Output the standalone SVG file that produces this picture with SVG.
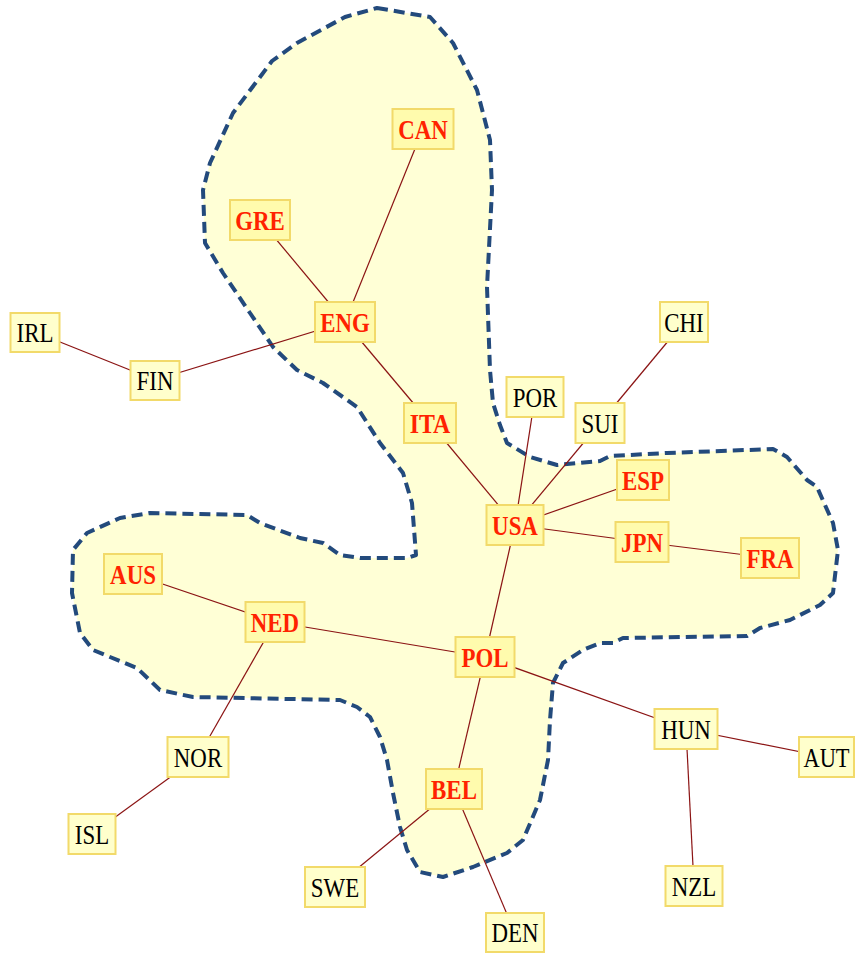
<svg xmlns="http://www.w3.org/2000/svg" width="858" height="953" viewBox="0 0 858 953">
<style>
.blob{fill:#ffffd6;stroke:#234a7c;stroke-width:4;stroke-dasharray:11 6;stroke-linejoin:round;stroke-linecap:butt}
.edge{stroke:#8b1414;stroke-width:1.2;fill:none}
.in rect{fill:#fffbad;stroke:#f2da6a;stroke-width:2}
.out rect{fill:#ffffcc;stroke:#f2da6a;stroke-width:2}
text{font-family:"Liberation Serif","Times New Roman",serif;font-size:27px;text-anchor:middle}
.in text{fill:#ff2200;font-weight:bold}
.out text{fill:#000}
</style>
<rect width="858" height="953" fill="#fff"/>
<path class="blob" d="M377,8 L430,17 L453,43 L477,90 L490,140 L492,190 L487,287 L490,370 L493,403 L500,425 L507,443 L530,457 L557,465 L600,461 L610,456 L667,453 L773,449 L787,457 L807,480 L817,487 L833,523 L838,550 L833,593 L820,605 L790,620 L760,628 L747,636 L623,638 L613,643 L600,643 L583,650 L563,663 L553,683 L550,720 L548,760 L540,800 L523,840 L507,853 L473,867 L443,877 L420,872 L407,850 L400,827 L393,793 L387,760 L380,737 L370,717 L357,707 L340,700 L290,699 L193,697 L160,690 L137,668 L110,657 L93,650 L80,633 L72,593 L73,550 L87,533 L120,518 L150,513 L247,515 L260,523 L300,538 L323,543 L340,555 L360,558 L407,558 L416,555 L412,503 L403,473 L380,443 L357,407 L323,383 L297,370 L273,347 L250,313 L223,273 L205,243 L203,190 L210,163 L233,113 L272,61 L297,43 L345,17 Z"/>
<g id="edges">
<line class="edge" x1="423" y1="129" x2="345" y2="322"/>
<line class="edge" x1="260" y1="220" x2="345" y2="322"/>
<line class="edge" x1="345" y1="322" x2="155" y2="380"/>
<line class="edge" x1="155" y1="380" x2="35" y2="332"/>
<line class="edge" x1="345" y1="322" x2="430" y2="423"/>
<line class="edge" x1="430" y1="423" x2="515" y2="525"/>
<line class="edge" x1="515" y1="525" x2="535" y2="397"/>
<line class="edge" x1="515" y1="525" x2="600" y2="423"/>
<line class="edge" x1="600" y1="423" x2="684" y2="322"/>
<line class="edge" x1="515" y1="525" x2="643" y2="480"/>
<line class="edge" x1="515" y1="525" x2="642" y2="542"/>
<line class="edge" x1="642" y1="542" x2="770" y2="558"/>
<line class="edge" x1="515" y1="525" x2="485" y2="657"/>
<line class="edge" x1="133" y1="574" x2="275" y2="622"/>
<line class="edge" x1="275" y1="622" x2="485" y2="657"/>
<line class="edge" x1="275" y1="622" x2="198" y2="757"/>
<line class="edge" x1="198" y1="757" x2="92" y2="834"/>
<line class="edge" x1="485" y1="657" x2="454" y2="789"/>
<line class="edge" x1="485" y1="657" x2="686" y2="729"/>
<line class="edge" x1="686" y1="729" x2="826" y2="757"/>
<line class="edge" x1="686" y1="729" x2="694" y2="886"/>
<line class="edge" x1="454" y1="789" x2="335" y2="887"/>
<line class="edge" x1="454" y1="789" x2="515" y2="933"/>
</g>
<g id="CAN" class="in"><rect x="392.5" y="109" width="61" height="40"/><text x="423" y="138.5" textLength="49.6" lengthAdjust="spacingAndGlyphs">CAN</text></g>
<g id="GRE" class="in"><rect x="230" y="200" width="60" height="40"/><text x="260" y="229.5" textLength="49.6" lengthAdjust="spacingAndGlyphs">GRE</text></g>
<g id="ENG" class="in"><rect x="315" y="302" width="60" height="40"/><text x="345" y="331.5" textLength="49.6" lengthAdjust="spacingAndGlyphs">ENG</text></g>
<g id="ITA" class="in"><rect x="404" y="403" width="52" height="40"/><text x="430" y="432.5" textLength="40.7" lengthAdjust="spacingAndGlyphs">ITA</text></g>
<g id="USA" class="in"><rect x="486.5" y="505" width="57" height="40"/><text x="515" y="534.5" textLength="45.8" lengthAdjust="spacingAndGlyphs">USA</text></g>
<g id="ESP" class="in"><rect x="617" y="460" width="52" height="40"/><text x="643" y="489.5" textLength="42" lengthAdjust="spacingAndGlyphs">ESP</text></g>
<g id="JPN" class="in"><rect x="615.5" y="522" width="53" height="40"/><text x="642" y="551.5" textLength="41.9" lengthAdjust="spacingAndGlyphs">JPN</text></g>
<g id="FRA" class="in"><rect x="741" y="538" width="58" height="40"/><text x="770" y="567.5" textLength="47" lengthAdjust="spacingAndGlyphs">FRA</text></g>
<g id="AUS" class="in"><rect x="104" y="554" width="58" height="40"/><text x="133" y="583.5" textLength="45.8" lengthAdjust="spacingAndGlyphs">AUS</text></g>
<g id="NED" class="in"><rect x="245.5" y="602" width="59" height="40"/><text x="275" y="631.5" textLength="48.3" lengthAdjust="spacingAndGlyphs">NED</text></g>
<g id="POL" class="in"><rect x="455.5" y="637" width="59" height="40"/><text x="485" y="666.5" textLength="47" lengthAdjust="spacingAndGlyphs">POL</text></g>
<g id="BEL" class="in"><rect x="426" y="769" width="56" height="40"/><text x="454" y="798.5" textLength="45.8" lengthAdjust="spacingAndGlyphs">BEL</text></g>
<g id="IRL" class="out"><rect x="10.5" y="313" width="49" height="39"/><text x="35" y="341.5" textLength="36.9" lengthAdjust="spacingAndGlyphs">IRL</text></g>
<g id="FIN" class="out"><rect x="130.5" y="361" width="49" height="39"/><text x="155" y="389.5" textLength="36.9" lengthAdjust="spacingAndGlyphs">FIN</text></g>
<g id="POR" class="out"><rect x="506.5" y="377" width="57" height="40"/><text x="535" y="406.5" textLength="44.5" lengthAdjust="spacingAndGlyphs">POR</text></g>
<g id="SUI" class="out"><rect x="575.5" y="403" width="49" height="40"/><text x="600" y="432.5" textLength="36.9" lengthAdjust="spacingAndGlyphs">SUI</text></g>
<g id="CHI" class="out"><rect x="660" y="302" width="48" height="40"/><text x="684" y="331.5" textLength="39.4" lengthAdjust="spacingAndGlyphs">CHI</text></g>
<g id="HUN" class="out"><rect x="654.5" y="709" width="63" height="40"/><text x="686" y="738.5" textLength="49.6" lengthAdjust="spacingAndGlyphs">HUN</text></g>
<g id="AUT" class="out"><rect x="799" y="737" width="55" height="40"/><text x="826.5" y="766.5" textLength="46" lengthAdjust="spacingAndGlyphs">AUT</text></g>
<g id="NZL" class="out"><rect x="665.5" y="866" width="57" height="40"/><text x="694" y="895.5" textLength="44.5" lengthAdjust="spacingAndGlyphs">NZL</text></g>
<g id="NOR" class="out"><rect x="167.5" y="737" width="61" height="40"/><text x="198" y="766.5" textLength="48.3" lengthAdjust="spacingAndGlyphs">NOR</text></g>
<g id="ISL" class="out"><rect x="68.5" y="814" width="47" height="40"/><text x="92" y="843.5" textLength="34.3" lengthAdjust="spacingAndGlyphs">ISL</text></g>
<g id="SWE" class="out"><rect x="305" y="867" width="60" height="40"/><text x="335" y="896.5" textLength="48.3" lengthAdjust="spacingAndGlyphs">SWE</text></g>
<g id="DEN" class="out"><rect x="486" y="913" width="58" height="39"/><text x="515" y="942" textLength="47" lengthAdjust="spacingAndGlyphs">DEN</text></g>
</svg>
